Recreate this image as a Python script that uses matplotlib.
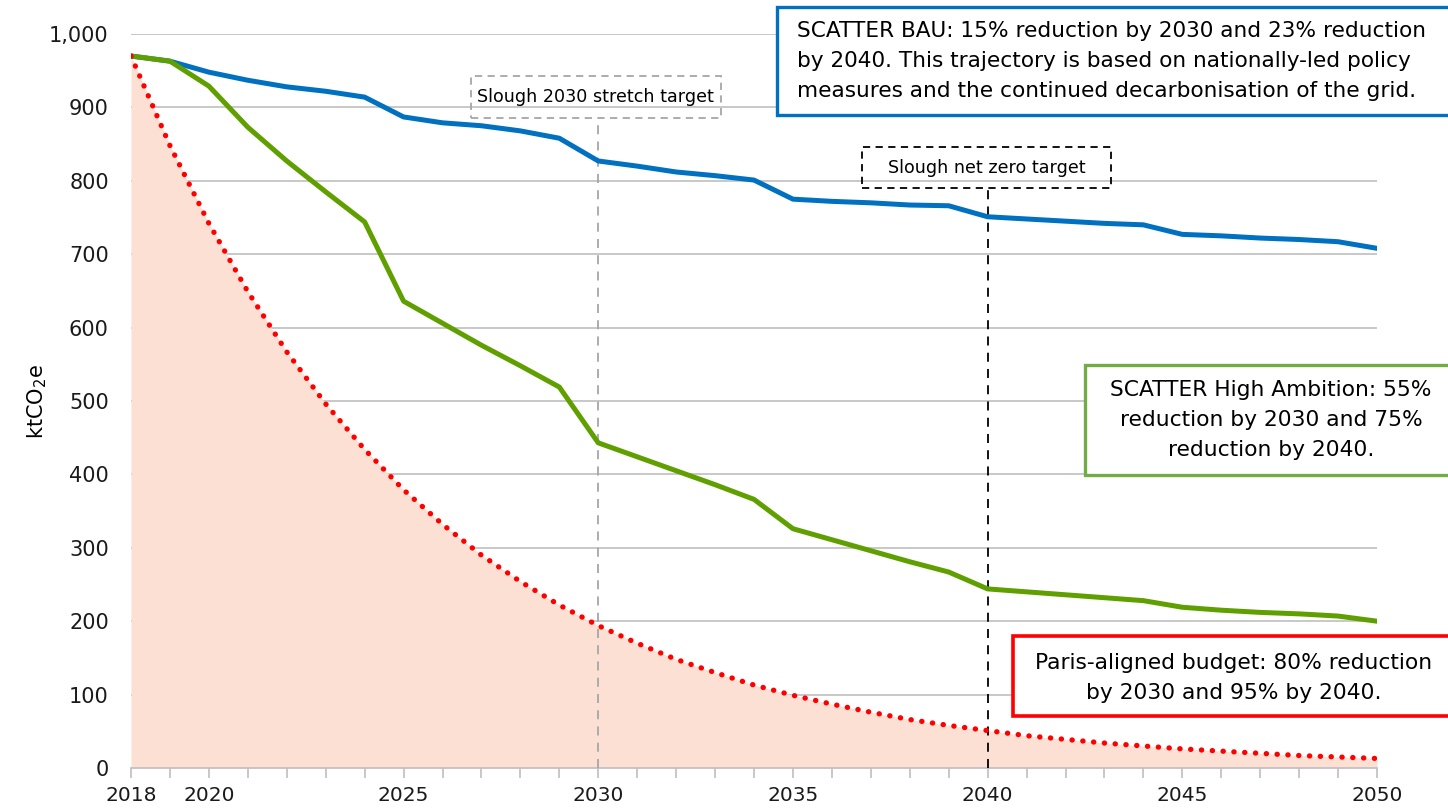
import matplotlib
matplotlib.use('Agg')
import matplotlib.pyplot as plt
from matplotlib.patches import Rectangle
from matplotlib.ticker import FuncFormatter, MultipleLocator

years = list(range(2018, 2051))
bau = [970, 963, 948, 937, 928, 922, 914, 887, 879, 875, 868, 858, 827, 820, 812, 807, 801,
       775, 772, 770, 767, 766, 751, 748, 745, 742, 740, 727, 725, 722, 720, 717, 708]
high_ambition = [970, 963, 929, 873, 827, 785, 744, 636, 606, 576, 548, 519, 443, 424, 405, 386, 366,
                 326, 311, 296, 281, 267, 244, 240, 236, 232, 228, 219, 215, 212, 210, 207, 200]
paris = [970, 848, 742, 649, 567, 496, 434, 379, 332, 290, 254, 222, 194, 170, 148, 130, 113,
         99, 87, 76, 66, 58, 51, 44, 39, 34, 30, 26, 23, 20, 17, 15, 13]
major_years = [2018, 2020, 2025, 2030, 2035, 2040, 2045, 2050]

W, H = 1448, 809
fig = plt.figure(figsize=(W / 100, H / 100), dpi=100)
ax = fig.add_axes([131 / W, 1 - 768 / H, (1377 - 131) / W, (768 - 34) / H])

ax.fill_between(years, paris, 0, color='#FCE0D3', lw=0, zorder=1)
ax.plot(years, bau, color='#0070C0', lw=3.6, zorder=4, solid_joinstyle='round')
ax.plot(years, high_ambition, color='#5FA000', lw=3.6, zorder=5, solid_joinstyle='round')
ax.plot(years, paris, color='#FF0000', lw=3.8, ls=(0, (0.05, 2.0)), dash_capstyle='round', zorder=6)

ax.set_xlim(2018, 2050)
ax.set_ylim(0, 1000)
ax.yaxis.set_major_locator(MultipleLocator(100))
ax.yaxis.set_major_formatter(FuncFormatter(lambda v, p: f'{int(v):,}'))
ax.grid(axis='y', color='#BFBFBF', lw=1.2, zorder=0)
ax.set_axisbelow(True)
for s in ['top', 'right', 'left']:
    ax.spines[s].set_visible(False)
ax.spines['bottom'].set_color('#BFBFBF')
ax.spines['bottom'].set_linewidth(1.2)
ax.set_xticks(years)
ax.set_xticklabels([str(y) if y in major_years else '' for y in years])
ax.tick_params(axis='x', length=7, color='#BFBFBF', width=1.2, labelsize=14.5, labelcolor='#1a1a1a', pad=6)
ax.tick_params(axis='y', length=0, labelsize=15, labelcolor='#1a1a1a', pad=16)
ax.set_ylabel('ktCO$_2$e', fontsize=15, labelpad=0)

# target markers
ax.vlines(2030, 0, 885, colors='#A6A6A6', linestyles=(0, (5, 4)), lw=1.3, zorder=3)
ax.vlines(2040, 0, 790, colors='#000000', linestyles=(0, (5, 4)), lw=1.3, zorder=3)
ax.add_patch(Rectangle((2026.73, 885.6), 6.42, 57.2, fill=False, ec='#A6A6A6', lw=1.3,
                       ls=(0, (4, 3)), clip_on=False, zorder=7))
ax.text(2029.94, 914, 'Slough 2030 stretch target', ha='center', va='center', fontsize=12.6, zorder=8)
ax.add_patch(Rectangle((2036.77, 790), 6.40, 56, fill=False, ec='#000000', lw=1.3,
                       ls=(0, (4, 3)), clip_on=False, zorder=7))
ax.text(2039.97, 818, 'Slough net zero target', ha='center', va='center', fontsize=12.6, zorder=8)


def px_box(x0, y0, x1, y1, color, lw):
    r = Rectangle((x0 / W, 1 - y1 / H), (x1 - x0) / W, (y1 - y0) / H, transform=fig.transFigure,
                  fc='white', ec=color, lw=lw, zorder=10)
    fig.patches.append(r)


px_box(777, 7, 1450, 115, '#0070C0', 2.4)
fig.text(797 / W, 1 - 61 / H,
         'SCATTER BAU: 15% reduction by 2030 and 23% reduction\n'
         'by 2040. This trajectory is based on nationally-led policy\n'
         'measures and the continued decarbonisation of the grid.',
         ha='left', va='center', fontsize=15.6, linespacing=1.62, zorder=11)

px_box(1085, 365, 1450, 475, '#70AD47', 2.4)
fig.text(1271 / W, 1 - 420 / H,
         'SCATTER High Ambition: 55%\nreduction by 2030 and 75%\nreduction by 2040.',
         ha='center', va='center', fontsize=15.7, linespacing=1.62, multialignment='center', zorder=11)

px_box(1013, 636, 1450, 716, '#FF0000', 2.6)
fig.text(1234 / W, 1 - 678 / H,
         'Paris-aligned budget: 80% reduction\nby 2030 and 95% by 2040.',
         ha='center', va='center', fontsize=15.7, linespacing=1.62, multialignment='center', zorder=11)

fig.savefig('out.png', dpi=100)
